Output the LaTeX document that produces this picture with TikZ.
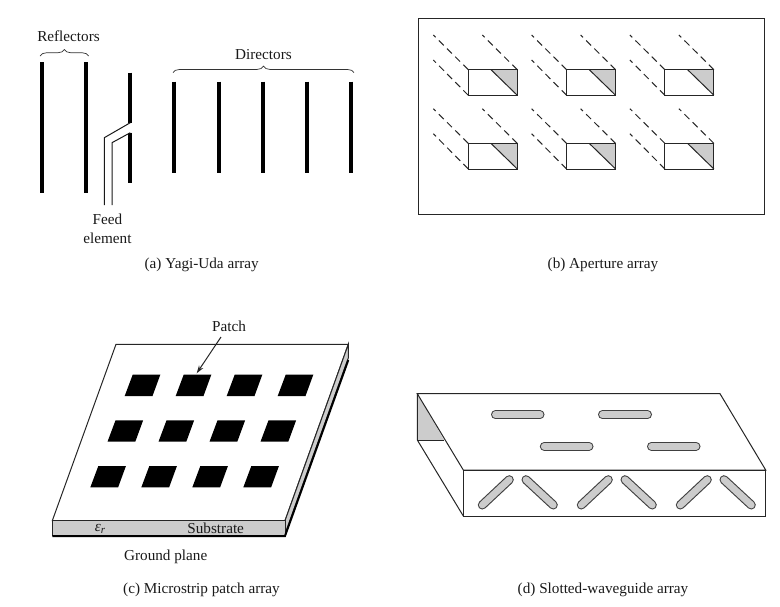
\documentclass[tikz,border=0pt]{standalone}
\usepackage{fontspec}
\setmainfont{Liberation Serif}
\usetikzlibrary{decorations.pathreplacing,arrows.meta}
\definecolor{greyfill}{gray}{0.80}
\tikzset{
  label/.style={inner sep=0pt,font=\fontsize{15.2}{19}\selectfont,align=center,text=black!90},
  element/.style={line width=3.8pt,black},
  feed/.style={line width=1pt,black!90},
  bracket/.style={line width=0.7pt,black!80,decorate,decoration={brace,amplitude=6.5pt}},
  thin/.style={line width=1pt,black!85},
  dashline/.style={line width=1pt,black!85,dash pattern=on 7pt off 4.5pt},
  patch/.style={fill=black},
}
\newcommand{\slotline}[2]{%
  \draw[line width=9pt,line cap=round,black!75] #1 -- #2;
  \draw[line width=6.8pt,line cap=round,greyfill] #1 -- #2;}
\begin{document}
\begin{tikzpicture}[x=1pt,y=-1pt]
\useasboundingbox (0,0) rectangle (780,606);
% (a)
\foreach \x in {42,86.3}{\draw[element] (\x,62) -- (\x,192.7);}
\foreach \x in {174.3,218.7,262.7,307,351}{\draw[element] (\x,81.7) -- (\x,173.3);}
\draw[element] (130.3,72.7) -- (130.3,122.7);
\draw[element] (130.3,132.7) -- (130.3,183);
\draw[feed] (130.3,122.7) -- (104.3,137.7) -- (104.3,205);
\draw[feed] (130.3,132.7) -- (112,142.7) -- (112,205);
\draw[bracket] (40,56) -- (88.7,56);
\draw[bracket] (173,72.7) -- (354,72.7);
\node[label] (reflectors) at (68.5,36) {Reflectors};
\node[label] (directors) at (263.5,55) {Directors};
\node[label] (feedlabel) at (107.5,228.5) {Feed\\element};
\node[label] (capa) at (201.7,264.5) {(a) Yagi-Uda array};
% (b)
\draw[thin] (418,18) rectangle (764,214);
\foreach \cx in {0,98.3,196.6}{
  \foreach \cy in {0,73.7}{
    \begin{scope}[shift={(\cx,\cy)}]
      \fill[greyfill] (491,69.7) -- (517.3,69.7) -- (517.3,95.3) -- cycle;
      \draw[thin] (468.3,69.7) rectangle (517.3,95.3);
      \draw[thin] (491,69.7) -- (517.3,95.3);
      \draw[dashline] (468.3,69.7) -- (433.3,35);
      \draw[dashline] (517.3,69.7) -- (482.3,35);
      \draw[dashline] (468.3,95.3) -- (433.3,60);
    \end{scope}
  }
}
\node[label] (capb) at (603,264.5) {(b) Aperture array};
% (c)
\draw[thin] (116,344.3) -- (348.3,344.3) -- (285,520.7) -- (52.3,520.7) -- cycle;
\draw[thin,fill=greyfill] (348.3,344.3) -- (348.3,358) -- (285,534) -- (285,520.7) -- cycle;
\draw[thin,fill=greyfill] (52.3,520.7) rectangle (285,535);
\draw[line width=2pt,black] (52.3,536) -- (285,536) -- (348.3,360);
\foreach \r in {0,1,2}{
  \foreach \c in {0,1,2,3}{
    \fill[patch,shift={({\c*51-\r*17.2},{\r*45.7})}] (124.7,396) -- (152.5,396) -- (160.3,374.7) -- (132.7,374.7) -- cycle;
  }
}
\node[label] (patchlabel) at (229,326.7) {Patch};
\coordinate (patchtip) at (196.7,373.3);
\draw[thin,-{Stealth[length=8pt,width=5pt]}] (221,337) -- (patchtip);
\node[label] (eps) at (100,529) {\itshape ε\raisebox{-0.3ex}{\fontsize{11}{11}\selectfont r}};
\node[label] (substrate) at (215.7,528.5) {Substrate};
\node[label] (ground) at (165.7,556.7) {Ground plane};
\node[label] (capc) at (201.5,590) {(c) Microstrip patch array};
% (d)
\fill[greyfill] (417.3,393.7) -- (444,440) -- (417.3,440) -- cycle;
\draw[thin] (417.3,393.7) -- (720,393.7) -- (765.7,470) -- (463.3,470) -- cycle;
\draw[thin] (463.3,470) rectangle (765.7,516);
\draw[thin] (417.3,393.7) -- (417.3,440) -- (463.3,516);
\draw[thin] (417.3,440) -- (444,440);
\slotline{(495.5,414.7)}{(540,414.7)}
\slotline{(602.5,414.7)}{(647.5,414.7)}
\slotline{(544.3,446.3)}{(589,446.3)}
\slotline{(651.5,446.3)}{(696,446.3)}
\foreach \d in {0,99,198}{
  \slotline{({482.3+\d},505)}{({509.3+\d},479.7)}
  \slotline{({526+\d},479.7)}{({553.3+\d},505)}
}
\node[label] (capd) at (603,590) {(d) Slotted-waveguide array};
\end{tikzpicture}
\end{document}
